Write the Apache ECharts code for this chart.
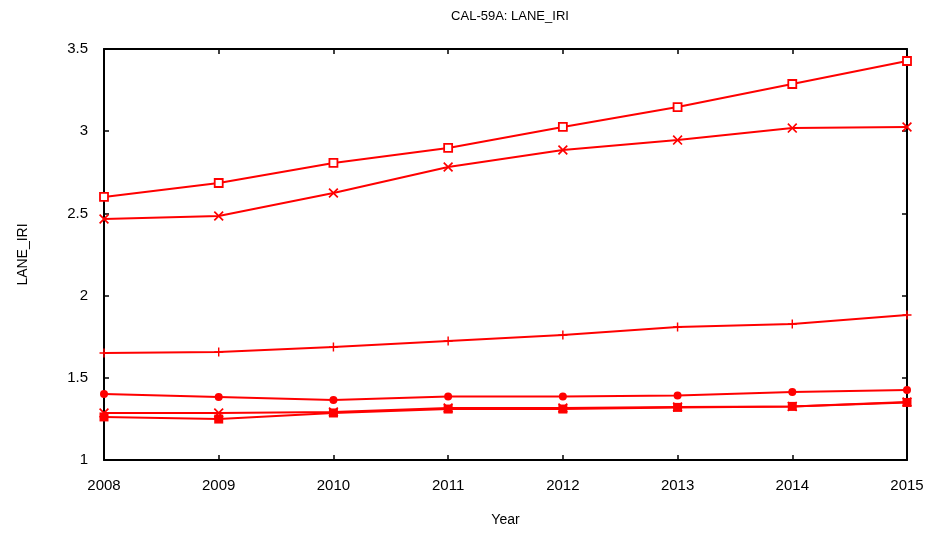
<!DOCTYPE html>
<html>
<head>
<meta charset="utf-8">
<script src="https://cdn.jsdelivr.net/npm/echarts@6/dist/echarts.min.js"></script>
<style>html,body{margin:0;padding:0;background:#fff;}#c{width:933px;height:534px;}</style>
</head>
<body>
<div id="c"></div>
<script>
const years = [2008, 2009, 2010, 2011, 2012, 2013, 2014, 2015];
const seriesSquareOpen = [2.60, 2.685, 2.807, 2.898, 3.026, 3.147, 3.287, 3.427];
const seriesCross = [2.466, 2.484, 2.624, 2.782, 2.886, 2.946, 3.019, 3.026];
const seriesPlus = [1.651, 1.657, 1.687, 1.724, 1.760, 1.809, 1.827, 1.882];
const seriesCircle = [1.401, 1.383, 1.365, 1.386, 1.386, 1.392, 1.414, 1.426];
const seriesCross2 = [1.286, 1.286, 1.292, 1.316, 1.316, 1.322, 1.326, 1.353];
const seriesSquareFilled = [1.262, 1.249, 1.286, 1.310, 1.310, 1.320, 1.326, 1.350];
const yTicks = [1, 1.5, 2, 2.5, 3, 3.5];

const RED = '#ff0000';
const xPath = 'path://M0,1.2L1.2,0L5,3.8L8.8,0L10,1.2L6.2,5L10,8.8L8.8,10L5,6.2L1.2,10L0,8.8L3.8,5Z';
const plusPath = 'path://M4.2,0H5.8V4.2H10V5.8H5.8V10H4.2V5.8H0V4.2H4.2Z';

function mk(vals, symbol, size, fill, bw) {
  return {
    type: 'line',
    data: years.map((y, i) => [y, vals[i]]),
    symbol: symbol,
    symbolSize: size,
    showAllSymbol: true,
    lineStyle: { color: RED, width: 2 },
    itemStyle: { color: fill, borderColor: RED, borderWidth: bw },
    animation: false,
    z: 3
  };
}

const chart = echarts.init(document.getElementById('c'));
const tickStyle = { show: true, inside: true, length: 5, lineStyle: { color: '#000', width: 1.5 } };
const lineSt = { show: true, lineStyle: { color: '#000', width: 2 } };
const FONT = 'Liberation Sans, Arial';
chart.setOption({
  backgroundColor: '#fff',
  animation: false,
  title: {
    text: 'CAL-59A: LANE_IRI', left: 505, top: 5, textAlign: 'center',
    textStyle: { fontFamily: FONT, fontSize: 13, fontWeight: 'normal', color: '#000' }
  },
  grid: { left: 104, right: 26, top: 49, bottom: 74 },
  xAxis: [{
    type: 'value', min: 2008, max: 2015, interval: 1,
    name: 'Year', nameLocation: 'middle', nameGap: 53,
    nameTextStyle: { fontFamily: FONT, fontSize: 14, color: '#000' },
    axisLine: lineSt, axisTick: tickStyle, splitLine: { show: false },
    axisLabel: { color: '#000', fontFamily: FONT, fontSize: 15, margin: 18, formatter: v => String(v) }
  }, {
    type: 'value', position: 'top', min: 2008, max: 2015, interval: 1,
    axisLine: lineSt, axisTick: tickStyle, splitLine: { show: false }, axisLabel: { show: false }
  }],
  yAxis: [{
    type: 'value', min: 1, max: 3.5, interval: 0.5,
    name: 'LANE_IRI', nameLocation: 'middle', nameGap: 74,
    nameTextStyle: { fontFamily: FONT, fontSize: 14, color: '#000' },
    axisLine: lineSt, axisTick: tickStyle, splitLine: { show: false },
    axisLabel: { color: '#000', fontFamily: FONT, fontSize: 15, margin: 16,
      formatter: v => (yTicks.indexOf(v) >= 0 ? String(v) : '') }
  }, {
    type: 'value', position: 'right', min: 1, max: 3.5, interval: 0.5,
    axisLine: lineSt, axisTick: tickStyle, splitLine: { show: false }, axisLabel: { show: false }
  }],
  series: [
    mk(seriesSquareOpen, 'rect', 8, '#fff', 1.8),
    mk(seriesCross, xPath, 10, RED, 0),
    mk(seriesPlus, plusPath, 9, RED, 0),
    mk(seriesCircle, 'circle', 8, RED, 0),
    mk(seriesCross2, xPath, 10, RED, 0),
    mk(seriesSquareFilled, 'rect', 9, RED, 0)
  ]
});
</script>
</body>
</html>
